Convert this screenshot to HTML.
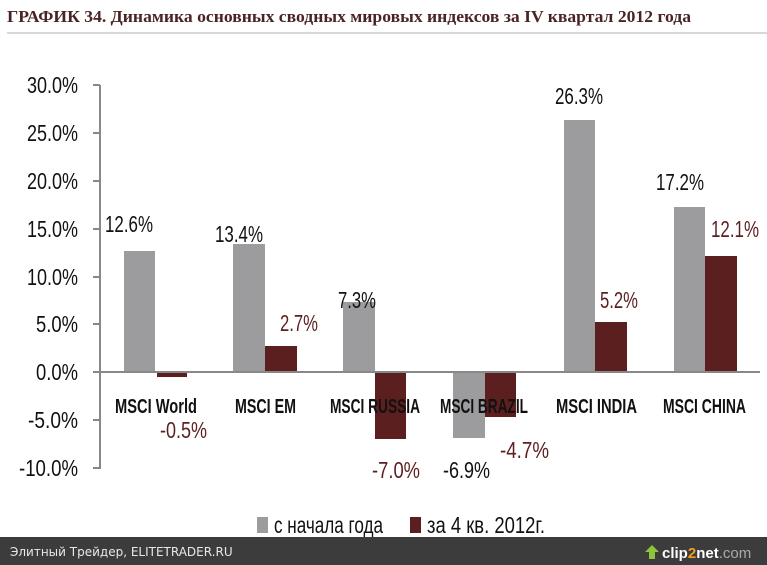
<!DOCTYPE html>
<html><head><meta charset="utf-8"><style>
html,body{margin:0;padding:0;width:767px;height:565px;background:#fff;overflow:hidden}
svg{display:block}
.c{font-family:"Liberation Sans Narrow","Liberation Sans",sans-serif}
</style></head><body>
<svg width="767" height="565" viewBox="0 0 767 565" xmlns="http://www.w3.org/2000/svg">
<text x="7" y="22" font-family="Liberation Serif,serif" font-weight="bold" font-size="17" fill="#4a2424" textLength="684" lengthAdjust="spacingAndGlyphs">ГРАФИК 34. Динамика основных сводных мировых индексов за IV квартал 2012 года</text>
<line x1="7" y1="33" x2="767" y2="33" stroke="#b0b0b0" stroke-width="1"/>
<g class="c" font-size="23" fill="#111" text-anchor="end" lengthAdjust="spacingAndGlyphs">
<text x="78" y="93" textLength="51" lengthAdjust="spacingAndGlyphs">30.0%</text>
<text x="78" y="141" textLength="51" lengthAdjust="spacingAndGlyphs">25.0%</text>
<text x="78" y="189" textLength="51" lengthAdjust="spacingAndGlyphs">20.0%</text>
<text x="78" y="237" textLength="51" lengthAdjust="spacingAndGlyphs">15.0%</text>
<text x="78" y="285" textLength="51" lengthAdjust="spacingAndGlyphs">10.0%</text>
<text x="78" y="332" textLength="42" lengthAdjust="spacingAndGlyphs">5.0%</text>
<text x="78" y="380" textLength="42" lengthAdjust="spacingAndGlyphs">0.0%</text>
<text x="78" y="428" textLength="50" lengthAdjust="spacingAndGlyphs">-5.0%</text>
<text x="78" y="476" textLength="59" lengthAdjust="spacingAndGlyphs">-10.0%</text>
</g>
<g stroke="#888" stroke-width="2">
<line x1="100" y1="85" x2="100" y2="469"/>
<line x1="93" y1="85" x2="100" y2="85"/><line x1="93" y1="133" x2="100" y2="133"/><line x1="93" y1="181" x2="100" y2="181"/>
<line x1="93" y1="229" x2="100" y2="229"/><line x1="93" y1="277" x2="100" y2="277"/><line x1="93" y1="324" x2="100" y2="324"/>
<line x1="93" y1="420" x2="100" y2="420"/><line x1="93" y1="468" x2="100" y2="468"/>
</g>
<g fill="#9c9c9e">
<rect x="124" y="251" width="31" height="121"/>
<rect x="233" y="244" width="32" height="128"/>
<rect x="343" y="302" width="32" height="70"/>
<rect x="453" y="372" width="32" height="66"/>
<rect x="564" y="120" width="31" height="252"/>
<rect x="674" y="207" width="31" height="165"/>
</g>
<g fill="#5c1f1f">
<rect x="157" y="372" width="30" height="5"/>
<rect x="265" y="346" width="32" height="26"/>
<rect x="375" y="372" width="31" height="67"/>
<rect x="485" y="372" width="31" height="45"/>
<rect x="595" y="322" width="32" height="50"/>
<rect x="705" y="256" width="32" height="116"/>
</g>
<line x1="93" y1="372" x2="760" y2="372" stroke="#888" stroke-width="2"/>
<g class="c" font-size="20" font-weight="bold" fill="#111">
<text x="115" y="413" textLength="82" lengthAdjust="spacingAndGlyphs">MSCI World</text>
<text x="235" y="413" textLength="61" lengthAdjust="spacingAndGlyphs">MSCI EM</text>
<text x="330" y="413" textLength="90" lengthAdjust="spacingAndGlyphs">MSCI RUSSIA</text>
<text x="440" y="413" textLength="88" lengthAdjust="spacingAndGlyphs">MSCI BRAZIL</text>
<text x="556" y="413" textLength="81" lengthAdjust="spacingAndGlyphs">MSCI INDIA</text>
<text x="663" y="413" textLength="83" lengthAdjust="spacingAndGlyphs">MSCI CHINA</text>
</g>
<g class="c" font-size="23">
<text x="105" y="232" fill="#111" textLength="48" lengthAdjust="spacingAndGlyphs">12.6%</text>
<text x="215" y="242" fill="#111" textLength="48" lengthAdjust="spacingAndGlyphs">13.4%</text>
<text x="338" y="308" fill="#111" textLength="38" lengthAdjust="spacingAndGlyphs">7.3%</text>
<text x="443" y="478" fill="#111" textLength="47" lengthAdjust="spacingAndGlyphs">-6.9%</text>
<text x="555" y="104" fill="#111" textLength="48" lengthAdjust="spacingAndGlyphs">26.3%</text>
<text x="656" y="190" fill="#111" textLength="48" lengthAdjust="spacingAndGlyphs">17.2%</text>
<text x="160" y="438" fill="#5c1f1f" textLength="47" lengthAdjust="spacingAndGlyphs">-0.5%</text>
<text x="280" y="331" fill="#5c1f1f" textLength="38" lengthAdjust="spacingAndGlyphs">2.7%</text>
<text x="372" y="478" fill="#5c1f1f" textLength="48" lengthAdjust="spacingAndGlyphs">-7.0%</text>
<text x="500" y="458" fill="#5c1f1f" textLength="49" lengthAdjust="spacingAndGlyphs">-4.7%</text>
<text x="600" y="308" fill="#5c1f1f" textLength="38" lengthAdjust="spacingAndGlyphs">5.2%</text>
<text x="711" y="237" fill="#5c1f1f" textLength="48" lengthAdjust="spacingAndGlyphs">12.1%</text>
</g>
<rect x="257" y="517" width="11" height="16" fill="#9c9c9e"/>
<text class="c" x="274" y="533" font-size="23" fill="#111" textLength="109" lengthAdjust="spacingAndGlyphs">с начала года</text>
<rect x="410" y="517" width="11" height="16" fill="#5c1f1f"/>
<text class="c" x="427" y="533" font-size="23" fill="#111" textLength="118" lengthAdjust="spacingAndGlyphs">за 4 кв. 2012г.</text>
<rect x="0" y="537" width="767" height="28" fill="#3c3c3c"/>
<text x="10" y="556" font-family="DejaVu Sans,sans-serif" font-size="12" fill="#e8e8e8">Элитный Трейдер, ELITETRADER.RU</text>
<polygon points="652,545 645,552 649,552 649,559 655,559 655,552 659,552" fill="#8cc43c"/>
<text x="662" y="558" font-family="Liberation Sans,sans-serif" font-weight="bold" font-size="15" fill="#fff">clip<tspan fill="#f0a020">2</tspan>net<tspan fill="#aaa" font-weight="normal">.com</tspan></text>
</svg>
</body></html>
